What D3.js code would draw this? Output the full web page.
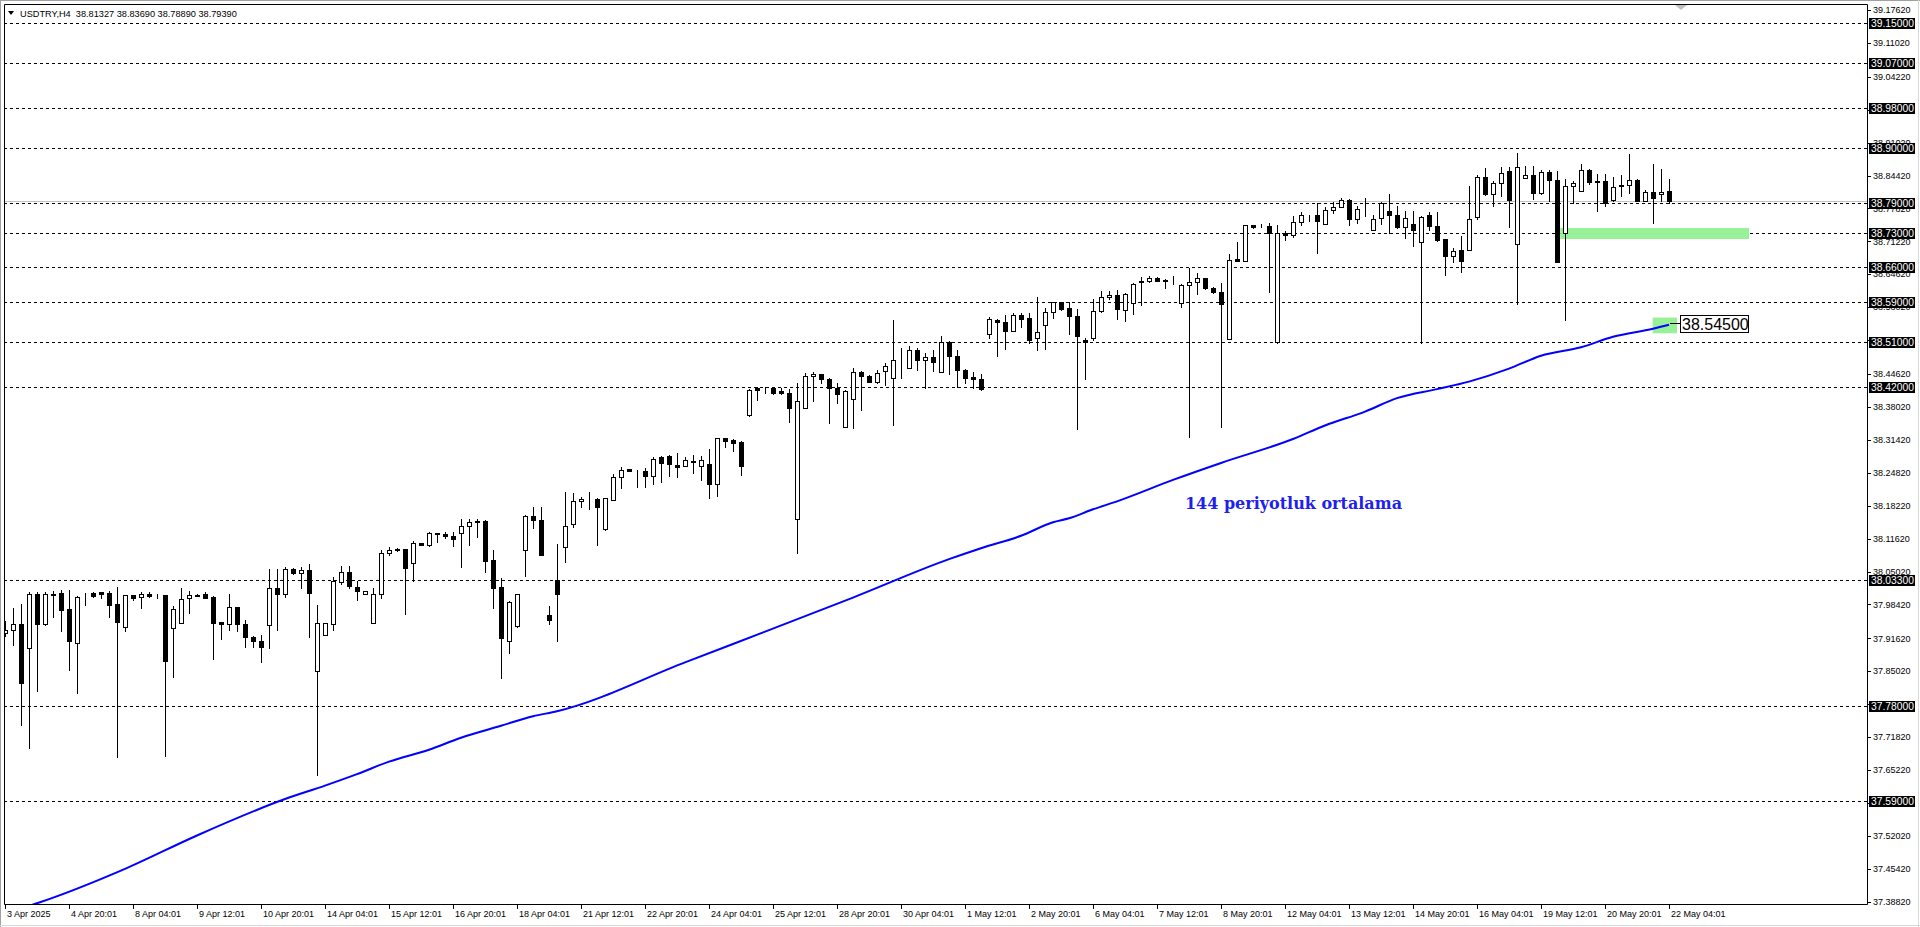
<!DOCTYPE html>
<html><head><meta charset="utf-8">
<script src="https://cdn.jsdelivr.net/npm/d3@7"></script>
<style>html,body{margin:0;padding:0;background:#fff;overflow:hidden}svg{display:block}</style>
</head><body>
<svg id="c" width="1920" height="927"></svg>
<script>
// ---------------- DATA ----------------
const headerSymbol = "USDTRY,H4";
const headerOHLC = ["38.81327", "38.83690", "38.78890", "38.79390"];

const timeLabels = ["3 Apr 2025","4 Apr 20:01","8 Apr 04:01","9 Apr 12:01","10 Apr 20:01","14 Apr 04:01",
  "15 Apr 12:01","16 Apr 20:01","18 Apr 04:01","21 Apr 12:01","22 Apr 20:01","24 Apr 04:01","25 Apr 12:01",
  "28 Apr 20:01","30 Apr 04:01","1 May 12:01","2 May 20:01","6 May 04:01","7 May 12:01","8 May 20:01",
  "12 May 04:01","13 May 12:01","14 May 20:01","16 May 04:01","19 May 12:01","20 May 20:01","22 May 04:01"];
const barsPerTimeLabel = 8;

const priceTicks = ["39.17620","39.11020","39.04220","38.97620","38.91020","38.84420","38.77820","38.71220",
  "38.64620","38.58020","38.51420","38.44620","38.38020","38.31420","38.24820","38.18220","38.11620",
  "38.05020","37.98420","37.91620","37.85020","37.78420","37.71820","37.65220","37.58620","37.52020",
  "37.45420","37.38820"];

const levels = [39.15, 39.07, 38.98, 38.90, 38.79, 38.73, 38.66, 38.59, 38.51, 38.42, 38.033, 37.78, 37.59];

const opens = [
37.926,37.933,37.945,37.897,38.005,37.945,38.006,38.007,37.975,37.906,
38.005,38.008,38.009,38.007,37.985,37.940,38.003,37.999,38.005,38.003,
38.003,37.938,37.947,37.997,38.004,38.006,38.000,37.949,37.946,37.979,
37.945,37.919,37.910,37.943,38.017,38.006,38.056,38.048,38.053,37.850,
37.922,37.946,38.030,38.049,38.020,38.006,37.947,38.005,38.087,38.095,
38.095,38.067,38.107,38.103,38.127,38.126,38.122,38.127,38.141,38.151,
38.151,38.073,38.020,37.911,37.941,38.093,38.161,38.153,37.963,38.033,
38.100,38.146,38.191,38.195,38.195,38.135,38.193,38.240,38.255,38.252,
38.252,38.242,38.280,38.281,38.263,38.262,38.272,38.262,38.266,38.226,
38.317,38.313,38.309,38.365,38.419,38.419,38.419,38.412,38.408,38.156,
38.379,38.442,38.446,38.437,38.419,38.341,38.396,38.450,38.442,38.431,
38.452,38.438,38.475,38.458,38.495,38.475,38.481,38.450,38.511,38.483,
38.455,38.441,38.437,38.527,38.554,38.550,38.533,38.564,38.558,38.519,
38.545,38.570,38.590,38.578,38.562,38.514,38.519,38.572,38.600,38.604,
38.575,38.589,38.633,38.632,38.639,38.635,38.635,38.588,38.625,38.630,
38.638,38.619,38.611,38.516,38.676,38.672,38.745,38.742,38.743,38.510,
38.729,38.725,38.751,38.765,38.766,38.747,38.775,38.782,38.796,38.757,
38.777,38.735,38.759,38.773,38.765,38.741,38.747,38.711,38.765,38.743,
38.717,38.683,38.694,38.695,38.761,38.842,38.807,38.830,38.854,38.707,
38.840,38.846,38.809,38.852,38.836,38.729,38.824,38.813,38.856,38.834,
38.834,38.795,38.826,38.826,38.836,38.793,38.812,38.808,38.81327];

const highs = [
37.951,37.977,37.985,38.010,38.010,38.010,38.012,38.013,38.013,38.002,
38.008,38.010,38.010,38.012,38.020,38.004,38.004,38.010,38.010,38.006,
38.004,37.981,38.017,38.012,38.006,38.010,38.002,37.949,38.005,37.979,
37.953,37.921,37.923,38.055,38.055,38.060,38.058,38.060,38.066,37.983,
37.947,38.040,38.062,38.062,38.032,38.012,38.017,38.093,38.099,38.097,
38.096,38.112,38.107,38.130,38.128,38.130,38.129,38.155,38.155,38.155,
38.153,38.093,38.038,37.992,38.006,38.164,38.180,38.179,37.981,38.105,
38.210,38.208,38.200,38.210,38.197,38.198,38.245,38.259,38.255,38.254,
38.257,38.279,38.282,38.283,38.288,38.279,38.283,38.282,38.295,38.317,
38.318,38.315,38.311,38.416,38.421,38.421,38.420,38.418,38.416,38.429,
38.448,38.451,38.447,38.438,38.429,38.415,38.458,38.453,38.444,38.454,
38.469,38.554,38.499,38.502,38.498,38.489,38.494,38.522,38.512,38.495,
38.456,38.451,38.446,38.560,38.556,38.564,38.568,38.569,38.568,38.600,
38.578,38.591,38.591,38.590,38.576,38.519,38.596,38.613,38.613,38.615,
38.608,38.628,38.640,38.642,38.640,38.636,38.642,38.626,38.659,38.649,
38.639,38.620,38.629,38.686,38.712,38.746,38.746,38.747,38.750,38.746,
38.733,38.764,38.771,38.766,38.790,38.781,38.791,38.799,38.797,38.783,
38.800,38.766,38.792,38.808,38.784,38.774,38.773,38.763,38.772,38.772,
38.718,38.699,38.723,38.824,38.845,38.860,38.833,38.861,38.861,38.890,
38.864,38.864,38.856,38.856,38.853,38.837,38.834,38.868,38.858,38.848,
38.848,38.842,38.845,38.887,38.837,38.816,38.868,38.858,38.83690];

const lows = [
37.921,37.903,37.743,37.697,37.810,37.943,37.959,37.931,37.853,37.807,
37.983,38.000,37.998,37.959,37.678,37.931,37.994,37.978,38.000,37.998,
37.681,37.838,37.947,37.968,38.002,37.998,37.874,37.914,37.934,37.930,
37.898,37.898,37.868,37.896,37.934,38.000,38.046,38.017,37.919,37.642,
37.922,37.934,38.025,38.017,37.993,38.006,37.947,37.998,38.083,38.091,
37.966,38.032,38.103,38.101,38.109,38.117,38.101,38.060,38.104,38.119,
38.050,37.978,37.836,37.886,37.940,38.042,38.137,38.083,37.945,37.910,
38.069,38.139,38.180,38.176,38.104,38.134,38.193,38.217,38.251,38.220,
38.220,38.225,38.230,38.241,38.239,38.261,38.247,38.234,38.197,38.202,
38.300,38.291,38.243,38.362,38.394,38.409,38.407,38.407,38.350,38.087,
38.378,38.392,38.429,38.348,38.389,38.340,38.338,38.375,38.431,38.429,
38.425,38.344,38.438,38.458,38.454,38.419,38.453,38.450,38.446,38.421,
38.429,38.419,38.415,38.519,38.482,38.496,38.533,38.541,38.508,38.494,
38.496,38.558,38.574,38.527,38.337,38.436,38.514,38.571,38.596,38.556,
38.553,38.567,38.585,38.630,38.632,38.618,38.627,38.580,38.320,38.606,
38.617,38.609,38.341,38.516,38.672,38.672,38.739,38.741,38.611,38.508,
38.716,38.721,38.746,38.754,38.688,38.747,38.769,38.781,38.745,38.750,
38.764,38.735,38.747,38.729,38.739,38.719,38.702,38.508,38.735,38.714,
38.644,38.670,38.650,38.694,38.757,38.806,38.784,38.804,38.741,38.586,
38.839,38.797,38.807,38.794,38.670,38.554,38.790,38.813,38.828,38.774,
38.783,38.794,38.804,38.809,38.793,38.793,38.749,38.794,38.78890];

const closes = [
37.933,37.945,37.826,38.005,37.945,38.005,38.004,37.974,37.910,37.999,
38.006,38.002,38.006,37.984,37.950,38.003,37.998,38.005,38.002,38.003,
37.870,37.975,37.995,38.003,38.002,37.998,37.948,37.946,37.979,37.945,
37.918,37.910,37.898,38.017,38.006,38.055,38.048,38.053,38.008,37.947,
37.947,38.032,38.049,38.022,38.012,38.011,38.005,38.087,38.093,38.093,
38.058,38.107,38.103,38.127,38.126,38.121,38.115,38.141,38.149,38.149,
38.072,38.018,37.916,37.989,38.005,38.161,38.153,38.083,37.953,38.006,
38.141,38.191,38.195,38.195,38.179,38.197,38.240,38.253,38.252,38.251,
38.241,38.276,38.268,38.266,38.260,38.274,38.270,38.274,38.226,38.317,
38.312,38.308,38.261,38.415,38.415,38.418,38.408,38.408,38.379,38.392,
38.442,38.446,38.436,38.419,38.407,38.413,38.450,38.442,38.431,38.448,
38.462,38.475,38.474,38.495,38.475,38.480,38.470,38.511,38.482,38.454,
38.438,38.436,38.416,38.556,38.550,38.533,38.564,38.557,38.514,38.531,
38.570,38.590,38.577,38.562,38.523,38.510,38.572,38.600,38.605,38.576,
38.607,38.627,38.630,38.639,38.633,38.633,38.634,38.625,38.631,38.639,
38.619,38.610,38.587,38.675,38.672,38.745,38.741,38.742,38.729,38.729,
38.725,38.752,38.766,38.765,38.753,38.776,38.782,38.796,38.757,38.777,
38.777,38.757,38.789,38.765,38.741,38.759,38.735,38.761,38.743,38.716,
38.682,38.692,38.672,38.757,38.842,38.807,38.830,38.850,38.795,38.862,
38.846,38.809,38.851,38.835,38.670,38.824,38.829,38.855,38.831,38.832,
38.790,38.822,38.824,38.836,38.793,38.812,38.800,38.812,38.79390];

// 144-period moving average, read at sample bars
const maBar   = [0,4,15,24,35,40,44,48,53,57,62,66,69,85,91,106,118,122,127,131,133,136,139,146,152,161,165,170,174,179,183,188,192,197,201,206,208];
const maValue = [37.365,37.385,37.454,37.521,37.594,37.621,37.644,37.669,37.693,37.717,37.741,37.760,37.770,37.868,37.905,37.998,38.075,38.097,38.122,38.149,38.157,38.175,38.191,38.234,38.268,38.316,38.343,38.371,38.398,38.416,38.431,38.457,38.483,38.500,38.521,38.537,38.545];
const maLabel = "38.54500";
const maCaption = "144 periyotluk ortalama";

// support zone (green) : bars from/to, price bottom/top
const zoneBars = [194.4, 218];
const zonePrices = [38.717, 38.739];
const maZoneBars = [205.96, 209.0];
const maZonePrices = [38.528, 38.5595];

// ---------------- CHART ----------------
const svg = d3.select("#c");
const L = 4, T = 4, R = 1867, B = 904;
const x = d3.scaleLinear().domain([0, 208]).range([5, 1669]);
const y = d3.scaleLinear().domain([37.3882, 39.1762]).range([901.7, 10]);
const FONT = "'Liberation Sans', Arial, sans-serif";

// outer window frame
svg.append("rect").attr("x",0).attr("y",0).attr("width",1920).attr("height",927).attr("fill","#fff");
svg.append("line").attr("x1",0).attr("x2",1920).attr("y1",0.5).attr("y2",0.5).attr("stroke","#a0a0a0");
svg.append("line").attr("x1",0.5).attr("x2",0.5).attr("y1",0).attr("y2",927).attr("stroke","#a0a0a0");
svg.append("line").attr("x1",0).attr("x2",1920).attr("y1",925.5).attr("y2",925.5).attr("stroke","#d8d8d8");
svg.append("line").attr("x1",1918.5).attr("x2",1918.5).attr("y1",0).attr("y2",927).attr("stroke","#d8d8d8");

svg.append("defs").append("clipPath").attr("id","plot")
  .append("rect").attr("x",L+1).attr("y",T+1).attr("width",R-L-1).attr("height",B-T-1);
const plot = svg.append("g").attr("clip-path","url(#plot)");

// horizontal level lines
plot.selectAll("line.lvl").data(levels).join("line")
  .attr("x1",L).attr("x2",R)
  .attr("y1",d=>Math.round(y(d))+0.5).attr("y2",d=>Math.round(y(d))+0.5)
  .attr("stroke","#000").attr("stroke-width",1).attr("stroke-dasharray","3,3");

// bid line
const bid = closes[closes.length-1];
plot.append("line").attr("x1",L).attr("x2",R)
  .attr("y1",Math.round(y(bid))+0.5).attr("y2",Math.round(y(bid))+0.5)
  .attr("stroke","#c0c0c0").attr("stroke-width",1);

// green zones
const GREEN = "#98f098";
plot.append("rect")
  .attr("x",x(zoneBars[0])).attr("width",x(zoneBars[1])-x(zoneBars[0]))
  .attr("y",y(zonePrices[1])).attr("height",y(zonePrices[0])-y(zonePrices[1]))
  .attr("fill",GREEN);
plot.append("rect")
  .attr("x",x(maZoneBars[0])).attr("width",x(maZoneBars[1])-x(maZoneBars[0]))
  .attr("y",y(maZonePrices[1])).attr("height",y(maZonePrices[0])-y(maZonePrices[1]))
  .attr("fill",GREEN);

// candles
const bars = opens.map((o,i)=>({i,o,h:highs[i],l:lows[i],c:closes[i]}));
const cg = plot.append("g");
cg.selectAll("line.wick").data(bars).join("line")
  .attr("x1",d=>Math.round(x(d.i))+0.5).attr("x2",d=>Math.round(x(d.i))+0.5)
  .attr("y1",d=>Math.round(y(d.h))).attr("y2",d=>Math.round(y(d.l))+1)
  .attr("stroke","#000").attr("stroke-width",1).attr("shape-rendering","crispEdges");
cg.selectAll("rect.body").data(bars).join("rect")
  .attr("x",d=>Math.round(x(d.i))-1.5)
  .attr("width",4)
  .attr("y",d=>Math.round(y(Math.max(d.o,d.c)))+0.5)
  .attr("height",d=>Math.max(0, Math.round(y(Math.min(d.o,d.c))) - Math.round(y(Math.max(d.o,d.c)))))
  .attr("fill",d=>d.c>=d.o?"#fff":"#000")
  .attr("stroke","#000").attr("stroke-width",1);

// moving average
const maPts = maBar.map((b,k)=>[b, maValue[k]]);
plot.append("path").datum(maPts)
  .attr("d", d3.line().x(d=>x(d[0])).y(d=>y(d[1])).curve(d3.curveMonotoneX))
  .attr("fill","none").attr("stroke","#0000ff").attr("stroke-width",2);

// MA price label with connector
const lastMaY = Math.round(y(maValue[maValue.length-1]));
const lx = x(208);
svg.append("line").attr("x1",lx+1).attr("x2",lx+11).attr("y1",lastMaY-1.5).attr("y2",lastMaY-1.5)
  .attr("stroke","#000").attr("stroke-width",1);
svg.append("rect").attr("x",lx+11.5).attr("y",lastMaY-9.5).attr("width",68).attr("height",17)
  .attr("fill","#fff").attr("stroke","#000").attr("stroke-width",1);
svg.append("text").attr("x",lx+13).attr("y",lastMaY+5)
  .attr("font-family",FONT).attr("font-size",16).attr("fill","#000").text(maLabel);

// caption
svg.append("text").attr("x",1185).attr("y",509)
  .attr("font-family","'DejaVu Serif', serif").attr("font-weight","bold").attr("font-size",17)
  .attr("textLength",217).attr("lengthAdjust","spacingAndGlyphs")
  .attr("fill","#2020ee").text(maCaption);

// frame of the plot
svg.append("path").attr("d",`M${L+0.5},${B+0.5}V${T+0.5}H${R+0.5}V${B+0.5}H${L+0.5}`)
  .attr("fill","none").attr("stroke","#000").attr("stroke-width",1);

// price axis
const pa = svg.append("g");
pa.selectAll("line").data(priceTicks).join("line")
  .attr("x1",R+1).attr("x2",R+4)
  .attr("y1",d=>Math.round(y(+d))+0.5).attr("y2",d=>Math.round(y(+d))+0.5)
  .attr("stroke","#000");
pa.selectAll("text").data(priceTicks).join("text")
  .attr("x",R+6).attr("y",d=>y(+d)).attr("dy","0.35em")
  .attr("font-family",FONT).attr("font-size",9).attr("fill","#000").text(d=>d);

// level labels (black boxes)
const ll = svg.append("g");
ll.selectAll("rect").data(levels).join("rect")
  .attr("x",R+2).attr("y",d=>Math.round(y(d))-5).attr("width",46).attr("height",11)
  .attr("fill","#000");
ll.selectAll("text").data(levels).join("text")
  .attr("x",R+4).attr("y",d=>Math.round(y(d))+0.5).attr("dy","0.36em")
  .attr("font-family",FONT).attr("font-size",10.3).attr("fill","#fff").text(d=>d.toFixed(5));

// time axis
const ta = svg.append("g");
ta.selectAll("line").data(timeLabels).join("line")
  .attr("x1",(d,k)=>Math.round(x(k*barsPerTimeLabel))+0.5).attr("x2",(d,k)=>Math.round(x(k*barsPerTimeLabel))+0.5)
  .attr("y1",B+1).attr("y2",B+5).attr("stroke","#000");
ta.selectAll("text").data(timeLabels).join("text")
  .attr("x",(d,k)=>Math.round(x(k*barsPerTimeLabel))+2).attr("y",B+13)
  .attr("font-family",FONT).attr("font-size",9).attr("fill","#000").text(d=>d);

// header
svg.append("path").attr("d","M8,11H14L11,15Z").attr("fill","#000");
svg.append("text").attr("x",20).attr("y",16.5).attr("font-family",FONT).attr("font-size",9.2)
  .attr("fill","#000").attr("xml:space","preserve")
  .text(headerSymbol + "  " + headerOHLC.join(" "));

// chart-shift marker
svg.append("path").attr("d","M1675,5H1687L1681,10Z").attr("fill","#c0c0c0");
</script>
</body></html>
